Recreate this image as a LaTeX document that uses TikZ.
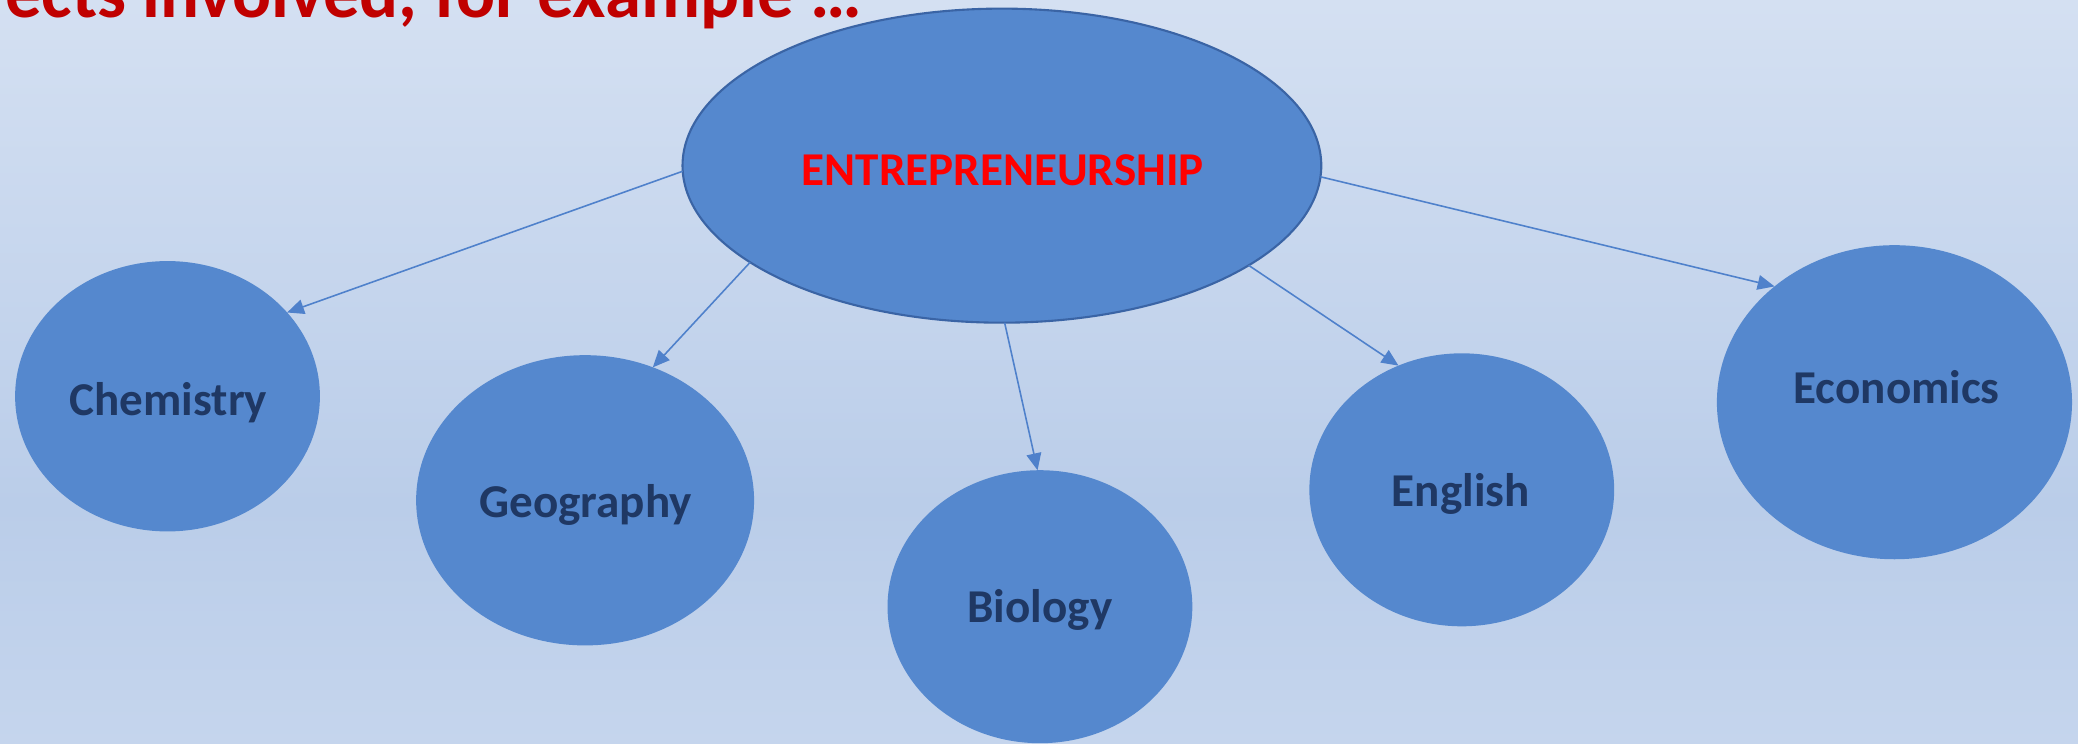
\documentclass[tikz,border=0pt]{standalone}
\usepackage{fontspec}
\setmainfont{Carlito}
\usetikzlibrary{shapes.geometric,arrows.meta}
\definecolor{bgtop}{RGB}{212,224,242}
\definecolor{bgmid}{RGB}{186,205,233}
\definecolor{bgbot}{RGB}{197,213,237}
\definecolor{ellfill}{RGB}{85,136,206}
\definecolor{elldraw}{RGB}{58,100,165}
\definecolor{arrowcol}{RGB}{79,129,203}
\definecolor{lblcol}{RGB}{31,56,100}
\definecolor{titlered}{RGB}{192,0,0}
\definecolor{entred}{RGB}{255,0,0}
\pgfdeclareverticalshading{bgshade}{100bp}{color(0bp)=(bgbot); color(25bp)=(bgbot); color(41bp)=(bgmid); color(75bp)=(bgtop); color(100bp)=(bgtop)}
\begin{document}
\begin{tikzpicture}[x=0.37706pt,y=-0.37706pt,
  bubble/.style={ellipse, fill=ellfill, draw=none, inner sep=0pt, outer sep=0pt},
  lbl/.style={text=lblcol, font=\fontsize{13.4pt}{16pt}\selectfont\bfseries, inner sep=0pt, anchor=base},
  link/.style={draw=arrowcol, line width=0.45pt, -{Triangle[length=4.8pt,width=4.2pt]}}]
\useasboundingbox (0,0) rectangle (1568,561.4);
\shade[shading=bgshade] (0,0) rectangle (1568,561.4);
\node[text=titlered, font=\fontsize{20.7pt}{24pt}\selectfont\bfseries, anchor=base east, inner sep=0pt] (title) at (651,13.2) {ects involved, for example …};
\node[bubble, minimum width=86.72pt, minimum height=76.92pt] (chem) at (126.4,299) {};
\node[bubble, minimum width=96.15pt, minimum height=82.58pt] (geo) at (441.5,377.5) {};
\node[bubble, minimum width=86.72pt, minimum height=77.67pt] (bio) at (784.7,457.8) {};
\node[bubble, minimum width=86.72pt, minimum height=77.67pt] (eng) at (1103,369.6) {};
\node[bubble, minimum width=101.04pt, minimum height=89.36pt] (econ) at (1429.5,303.5) {};
\node[bubble, draw=elldraw, line width=0.6pt, minimum width=181.74pt, minimum height=89.36pt] (ent) at (756,125) {};
\draw[link] (ent.181) -- (chem.35);
\draw[link] (ent.201) -- (geo.63);
\draw[link] (ent.271) -- (bio.91);
\draw[link] (ent.338) -- (eng.117);
\draw[link] (ent.358) -- (econ.136);
\node[lbl, text=entred] (entT) at (756.6,139.6) {ENTREPRENEURSHIP};
\node[lbl] (chemT) at (127.1,313.9) {Chemistry};
\node[lbl] (geoT) at (441.9,390.3) {Geography};
\node[lbl] (bioT) at (784.7,470) {Biology};
\node[lbl] (engT) at (1102.3,382.3) {English};
\node[lbl] (econT) at (1431.1,304.8) {Economics};
\end{tikzpicture}
\end{document}
